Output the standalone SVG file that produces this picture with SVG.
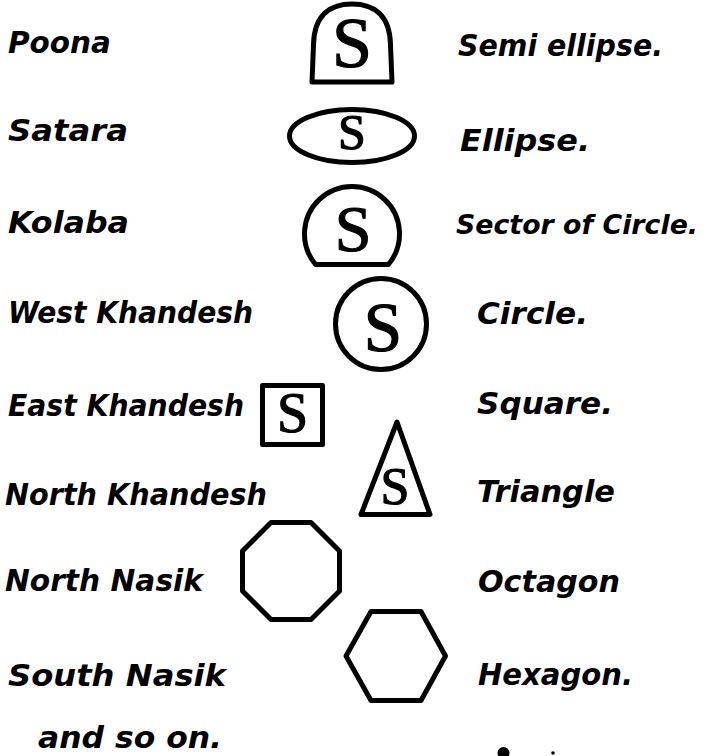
<svg xmlns="http://www.w3.org/2000/svg" width="709" height="756" viewBox="0 0 709 756">
<style>
.lbl{font-family:"DejaVu Sans","Liberation Sans",Arial,sans-serif;font-weight:bold;font-style:italic;font-size:30px;fill:#000}
.sym{fill:none;stroke:#000;stroke-width:5;stroke-linejoin:round}
.s{font-family:"Liberation Serif","Times New Roman",serif;text-anchor:middle;fill:#000;stroke:#000;stroke-width:1.2}
</style>
<rect width="709" height="756" fill="#fff"/>
<g id="labels-left">
<text class="lbl" x="8" y="53" textLength="103" lengthAdjust="spacingAndGlyphs">Poona</text>
<text class="lbl" x="8" y="141" textLength="120" lengthAdjust="spacingAndGlyphs">Satara</text>
<text class="lbl" x="8" y="233" textLength="121" lengthAdjust="spacingAndGlyphs">Kolaba</text>
<text class="lbl" x="8" y="323" textLength="245" lengthAdjust="spacingAndGlyphs">West Khandesh</text>
<text class="lbl" x="8" y="416" textLength="236" lengthAdjust="spacingAndGlyphs">East Khandesh</text>
<text class="lbl" x="5" y="505" textLength="262" lengthAdjust="spacingAndGlyphs">North Khandesh</text>
<text class="lbl" x="5" y="591" textLength="198" lengthAdjust="spacingAndGlyphs">North Nasik</text>
<text class="lbl" x="8" y="686" textLength="218" lengthAdjust="spacingAndGlyphs">South Nasik</text>
<text class="lbl" x="38" y="748" textLength="184" lengthAdjust="spacingAndGlyphs">and so on.</text>
</g>
<g id="semi-ellipse">
<path class="sym" d="M312,82 L313.5,45 C314,14 331,4 352,4 C373,4 390,14 390.5,45 L392,82 Z"/>
<text class="s" x="352" y="67" font-size="72">S</text>
</g>
<g id="ellipse">
<ellipse class="sym" cx="352" cy="136" rx="62.5" ry="26.5"/>
<text class="s" x="352" y="149" font-size="50">S</text>
</g>
<g id="sector">
<path class="sym" d="M315.6,264.5 A47.5,47.5 0 1 1 388.4,264.5 Z"/>
<text class="s" x="353" y="251" font-size="66">S</text>
</g>
<g id="circle">
<circle class="sym" cx="381" cy="324" r="45.5"/>
<text class="s" x="383" y="351" font-size="69">S</text>
</g>
<g id="square">
<rect class="sym" x="262.5" y="385.5" width="60" height="59"/>
<text class="s" x="292.5" y="432" font-size="56">S</text>
</g>
<g id="triangle">
<path class="sym" d="M397,422 L430,514.5 L361,514.5 Z"/>
<text class="s" x="395" y="504" font-size="52">S</text>
</g>
<g id="octagon">
<path class="sym" d="M271,522.5 L311,522.5 L339.5,551 L339.5,591 L311,619.5 L271,619.5 L242.5,591 L242.5,551 Z"/>
</g>
<g id="hexagon">
<path class="sym" d="M371,611.5 L421,611.5 L445.5,656 L421,700.5 L371,700.5 L346,656 Z"/>
</g>
<g id="labels-right">
<text class="lbl" x="458" y="56" textLength="205" lengthAdjust="spacingAndGlyphs">Semi ellipse.</text>
<text class="lbl" x="460" y="151" textLength="130" lengthAdjust="spacingAndGlyphs">Ellipse.</text>
<text class="lbl" x="456" y="234" font-size="27" textLength="242" lengthAdjust="spacingAndGlyphs" style="font-size:27px">Sector of Circle.</text>
<text class="lbl" x="477" y="324" textLength="111" lengthAdjust="spacingAndGlyphs">Circle.</text>
<text class="lbl" x="477" y="414" textLength="136" lengthAdjust="spacingAndGlyphs">Square.</text>
<text class="lbl" x="477" y="502" textLength="138" lengthAdjust="spacingAndGlyphs">Triangle</text>
<text class="lbl" x="478" y="592" textLength="142" lengthAdjust="spacingAndGlyphs">Octagon</text>
<text class="lbl" x="478" y="685" textLength="155" lengthAdjust="spacingAndGlyphs">Hexagon.</text>
</g>
<g id="connectors"></g>
<g id="marks">
<ellipse cx="503.5" cy="753" rx="6" ry="6" fill="#000"/>
<circle cx="553" cy="753" r="1.8" fill="#000"/>
</g>
</svg>
